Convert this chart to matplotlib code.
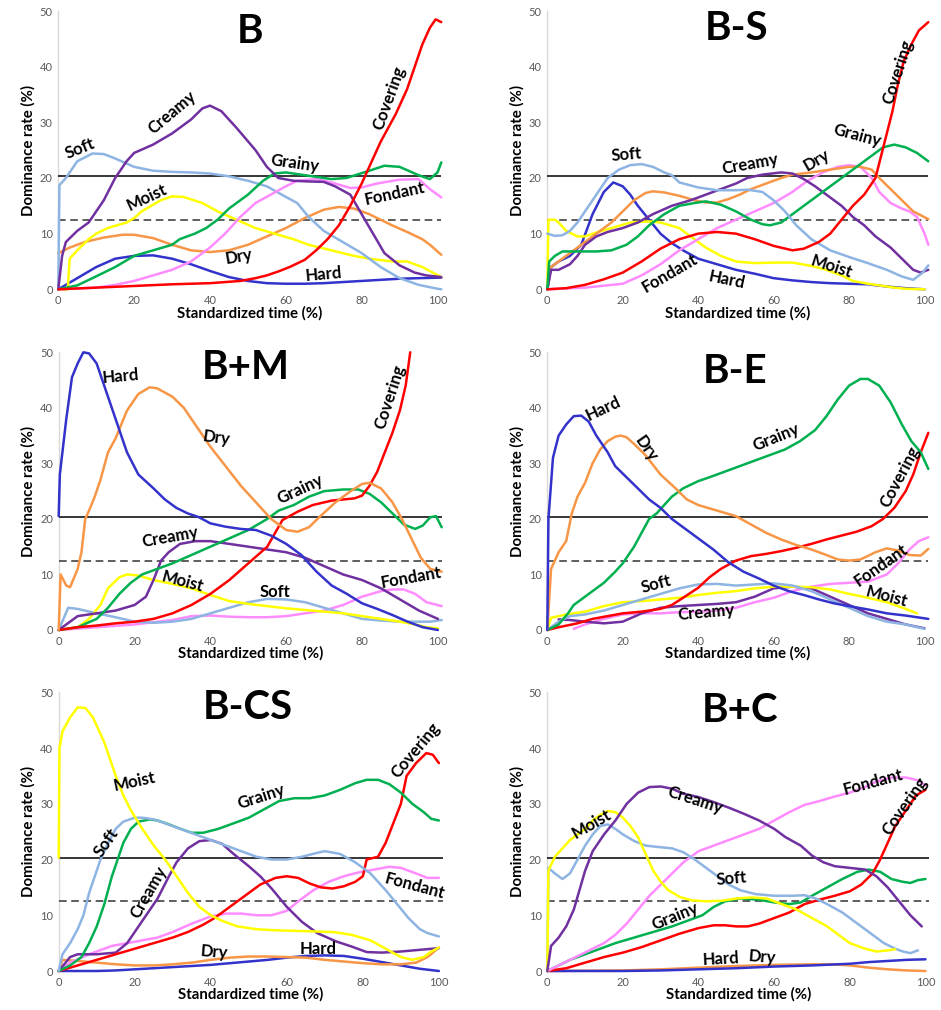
import matplotlib
matplotlib.use("Agg")
import matplotlib.pyplot as plt

plt.rcParams['font.family'] = ['Lato', 'DejaVu Sans']

# ---------------- colours ----------------
C_SOFT = '#8DB4E2'
C_CREAMY = '#7030A0'
C_MOIST = '#FFFF00'
C_DRY = '#F79646'
C_GRAINY = '#00B050'
C_HARD = '#3333CC'
C_COVER = '#FF0000'
C_FONDANT = '#FF8CFF'

threshold_solid = 20.3
threshold_dashed = 12.5

# ---------------- Panel B ----------------
B_soft_x = [0, 0.3, 2, 5, 9, 12, 15, 20, 25, 30, 35, 40, 45, 50, 55, 60, 63, 66, 70, 75, 80, 85, 90, 95, 100, 101]
B_soft_y = [0, 18.7, 20, 23, 24.4, 24.3, 23.5, 22, 21.3, 21.1, 21, 20.8, 20.3, 19.5, 18.5, 16.6, 15.5, 13, 10.5, 8.5, 6.5, 4, 2, 0.8, 0.1, 0]
B_creamy_x = [0, 1, 2, 5, 8, 12, 15, 18, 20, 25, 30, 35, 38, 40, 43, 47, 52, 55, 58, 62, 65, 70, 73, 77, 80, 83, 86, 90, 94, 97, 101]
B_creamy_y = [0, 6, 8.5, 10.5, 12, 16, 20, 23, 24.5, 26, 28, 30.5, 32.5, 33, 32, 29, 25, 22, 20, 19.5, 19.4, 19.3, 18.5, 17, 13.5, 10, 6.5, 4.3, 3, 2.5, 2.2]
B_moist_x = [0, 2.5, 3, 5, 8, 10, 13, 18, 20, 22, 27, 30, 33, 38, 42, 47, 52, 57, 62, 66, 72, 78, 82, 88, 92, 96, 101]
B_moist_y = [0, 0, 5.5, 7, 9, 10, 11, 12, 12.8, 14, 16, 16.7, 16.6, 15.5, 14, 12.5, 11, 10, 9, 8, 7, 6, 5.5, 5, 5, 4, 2.2]
B_dry_x = [0, 3, 7, 12, 17, 20, 25, 30, 35, 40, 45, 50, 55, 60, 65, 70, 74, 78, 82, 85, 88, 92, 96, 98, 101]
B_dry_y = [6.5, 7.5, 8.5, 9.3, 9.8, 9.8, 9.2, 8, 7, 6.7, 7, 8, 9.5, 11, 12.8, 14.3, 14.8, 14.5, 13.5, 12.5, 11.5, 10.3, 9, 8, 6.2]
B_grainy_x = [0, 5, 9, 15, 20, 25, 30, 32, 36, 39, 42, 45, 50, 54, 57, 60, 63, 67, 72, 76, 82, 86, 90, 95, 98, 100, 101]
B_grainy_y = [0, 0.7, 2, 4, 6, 7, 8, 9, 10, 11, 12.5, 14.5, 17, 19.5, 20.8, 21, 20.7, 20.3, 19.8, 20, 21.3, 22.2, 22, 20.5, 19.8, 21, 22.8]
B_fondant_x = [0, 10, 15, 20, 25, 30, 35, 40, 44, 48, 52, 56, 60, 63, 68, 72, 77, 80, 84, 90, 95, 98, 101]
B_fondant_y = [0, 0.3, 0.8, 1.5, 2.5, 3.5, 5, 7.5, 10, 13, 15.5, 17, 18.5, 19.5, 19.8, 19.2, 18.2, 18.3, 19, 19.7, 19.8, 18, 16.5]
B_hard_x = [0, 5, 10, 15, 20, 25, 30, 35, 40, 45, 50, 55, 60, 65, 70, 75, 80, 85, 90, 95, 101]
B_hard_y = [0, 2, 4, 5.5, 6, 6.1, 5.5, 4.5, 3.3, 2.2, 1.5, 1.1, 1, 1, 1.1, 1.3, 1.5, 1.7, 1.9, 2, 2.1]
B_cover_x = [0, 10, 20, 30, 40, 48, 52, 55, 58, 61, 65, 68, 71, 74, 77, 80, 82, 85, 87, 89, 92, 94, 96, 98, 99.5, 101]
B_cover_y = [0, 0.3, 0.6, 0.9, 1.1, 1.5, 2, 2.5, 3.2, 4, 5.3, 7, 9, 11.5, 15, 19, 22, 26.5, 29, 31.5, 36, 40, 44, 47, 48.5, 48]

# ---------------- Panel B-S ----------------
BS_soft_x = [0, 2, 4, 6, 8, 10, 12, 14, 16, 19, 22, 25, 28, 31, 33, 35, 40, 45, 50, 53, 57, 60, 63, 66, 70, 75, 80, 85, 90, 94, 97, 99.5, 101]
BS_soft_y = [10, 9.6, 9.7, 10.5, 12, 14, 16, 18, 20, 21.5, 22.3, 22.5, 22, 21, 20.5, 19.2, 18.3, 17.8, 17.8, 17.9, 17.5, 16, 14, 11.5, 9, 7, 5.8, 4.7, 3.5, 2.3, 1.7, 3, 4.3]
BS_hard_x = [0, 1, 3, 6, 9, 12, 15, 17.5, 20, 22, 24, 27, 30, 33, 36, 40, 45, 50, 55, 60, 65, 70, 75, 80, 85, 90, 95, 100]
BS_hard_y = [0, 4, 5, 6, 8, 13.5, 17.5, 19.2, 18.5, 17, 15, 12.5, 10, 8.3, 7, 5.5, 4.5, 3.5, 2.8, 2, 1.6, 1.3, 1.1, 1, 0.9, 0.5, 0.2, 0]
BS_moist_x = [0, 0.3, 2, 3, 5, 8, 10, 13, 17, 22, 27, 30, 35, 38, 42, 46, 50, 55, 60, 65, 70, 74, 78, 81, 85, 88, 92, 95, 100]
BS_moist_y = [0, 12.5, 12.5, 12, 10.5, 9.5, 9.5, 10.2, 11, 12, 12.2, 12, 11, 9.5, 7.5, 6, 5, 4.7, 4.8, 4.8, 4.2, 3.5, 2.5, 1.5, 1, 0.7, 0.3, 0.1, 0]
BS_dry_x = [0, 1, 3, 5, 8, 11, 14, 17, 20, 23, 26, 28, 31, 35, 39, 42, 45, 48, 51, 54, 58, 62, 65, 70, 75, 80, 83, 86, 88, 91, 94, 97, 101]
BS_dry_y = [0, 4, 5, 6, 7.5, 9, 10.5, 12, 14, 16, 17.3, 17.6, 17.4, 16.8, 16, 15.6, 15.6, 16.2, 17, 18, 19, 20, 20.6, 21, 21.5, 22, 22, 21.5, 20, 18, 16, 14, 12.6]
BS_creamy_x = [0, 1, 3, 6, 8, 10, 13, 16, 20, 24, 28, 33, 38, 42, 46, 50, 53, 57, 62, 65, 68, 71, 74, 78, 81, 84, 87, 91, 94, 97, 99, 101]
BS_creamy_y = [0, 3.5, 3.5, 4.5, 6, 8, 9.5, 10.3, 11, 12, 13.5, 15, 16, 17, 18, 19, 20, 20.6, 21, 20.8, 19.8, 18.5, 17, 15, 13, 11.5, 9.5, 7.5, 5.5, 3.5, 3, 3.5]
BS_grainy_x = [0, 0.5, 2, 4, 7, 10, 13, 17, 21, 24, 27, 31, 35, 39, 42, 46, 50, 54, 57, 59, 62, 65, 68, 71, 74, 77, 80, 83, 86, 89, 92, 95, 98, 101]
BS_grainy_y = [0, 5, 6, 6.8, 6.8, 6.8, 6.8, 7, 8, 9.5, 11.5, 13.5, 15, 15.5, 15.8, 15.2, 14, 12.5, 11.7, 11.5, 12, 13.5, 15, 16.5, 18, 19.5, 21, 22.5, 24, 25.5, 26, 25.5, 24.5, 23]
BS_fondant_x = [0, 10, 20, 25, 30, 35, 40, 45, 50, 55, 60, 65, 69, 73, 77, 80, 83, 86, 88, 91, 94, 96, 98, 100, 101]
BS_fondant_y = [0, 0.3, 1, 2.5, 4.5, 7, 9, 11, 12.5, 14, 15.5, 17.5, 19.5, 21, 22, 22.3, 22, 20, 17.5, 15.5, 14.5, 14, 13, 10, 8]
BS_cover_x = [0, 5, 10, 15, 20, 25, 30, 35, 40, 45, 50, 55, 60, 65, 68, 72, 75, 78, 81, 84, 87, 88.5, 90, 91.5, 93, 94.5, 96.5, 98.5, 101]
BS_cover_y = [0, 0.2, 0.8, 1.8, 3, 5, 7.3, 9, 10, 10.3, 10, 9, 7.8, 7, 7.3, 8.5, 10, 12.5, 15, 17, 20, 24, 28, 32, 37, 41, 44, 46.5, 48]

# ---------------- Panel B+M ----------------
BM_hard_x = [0, 0.3, 2, 3.5, 5, 6.5, 8, 10, 12, 14, 16, 18, 21, 25, 28, 31, 34, 37, 40, 44, 48, 52, 56, 60, 64, 68, 72, 76, 80, 84, 88, 92, 96, 100]
BM_hard_y = [20.5, 28, 38, 45.5, 48, 50, 49.8, 48, 44, 40, 36, 32, 28, 25.5, 23.5, 22, 21, 20.3, 19.2, 18.6, 18.2, 18, 17, 15.5, 13.5, 10.5, 8, 6.5, 4.8, 3.8, 2.7, 1.5, 0.5, 0]
BM_dry_x = [0, 0.5, 2, 3, 5, 6, 7, 8, 9.5, 11, 13, 15, 18, 21, 24, 26, 30, 33, 36, 40, 44, 48, 52, 56, 60, 63, 66, 69, 73, 77, 80, 82, 85, 88, 90.5, 93, 95.5, 98, 101]
BM_dry_y = [0, 10, 8, 7.7, 11, 14, 20, 21.5, 24, 27, 32, 34.5, 39.5, 42.5, 43.7, 43.5, 42, 40, 37, 33, 29.5, 26, 23, 20, 18, 17.7, 18.5, 20.5, 23, 25, 26.3, 26.5, 25.5, 23, 20, 16.5, 13, 11, 10.5]
BM_grainy_x = [0, 5, 10, 13, 16, 19, 22, 26, 30, 35, 40, 45, 50, 55, 58, 62, 66, 70, 75, 79, 82, 85, 88, 91, 94, 96, 98, 99.5, 101]
BM_grainy_y = [0, 0.5, 2, 4, 6.5, 8.5, 10, 11, 12, 13.5, 15, 16.5, 18, 20, 21.5, 22.5, 24, 25, 25.3, 25.3, 24.5, 23, 21, 19, 18.2, 18.8, 20.3, 20.5, 18.5]
BM_creamy_x = [0, 3, 5, 10, 15, 20, 23, 25, 27, 29, 32, 36, 40, 45, 50, 55, 60, 65, 70, 75, 80, 85, 90, 95, 100]
BM_creamy_y = [0, 1.5, 2.5, 3, 3.5, 4.5, 6, 9, 12.5, 14, 15.5, 16, 16, 15.5, 15, 14.5, 14, 13, 11.5, 10, 9, 7.5, 5.5, 3.5, 2]
BM_moist_x = [0, 5, 8, 11, 13, 16, 18, 21, 25, 30, 35, 40, 45, 50, 55, 60, 65, 70, 75, 80, 85, 90, 94, 97, 100]
BM_moist_y = [0, 0.5, 2, 4.5, 7.5, 9.5, 10, 9.8, 9, 8.3, 7.5, 6.3, 5.2, 4.7, 4.3, 3.9, 3.6, 3.3, 3, 2.5, 2, 1.5, 1, 0.5, 0.3]
BM_soft_x = [0, 2.5, 5, 10, 15, 20, 25, 30, 35, 40, 45, 50, 55, 60, 65, 70, 75, 80, 85, 90, 95, 98, 101]
BM_soft_y = [0, 4, 3.8, 3, 2.3, 1.5, 1.3, 1.5, 2, 3, 4, 5, 5.6, 5.5, 5, 4, 3, 2, 1.7, 1.5, 1.5, 1.5, 1.8]
BM_fondant_x = [0, 10, 20, 30, 35, 40, 45, 50, 55, 60, 65, 70, 75, 80, 85, 88, 91, 94, 97, 101]
BM_fondant_y = [0, 0.5, 1, 1.8, 2.5, 2.6, 2.4, 2.3, 2.3, 2.5, 3, 3.5, 4.5, 6, 7, 7.3, 7.3, 6.5, 5, 4.3]
BM_cover_x = [0, 5, 10, 15, 20, 25, 30, 35, 40, 45, 50, 55, 59, 63, 67, 72, 78, 80, 82, 84, 86, 88, 90, 91.5, 92.7]
BM_cover_y = [0, 0.5, 0.8, 1.2, 1.5, 2, 3, 4.5, 6.5, 9, 12, 15, 19.8, 21.3, 22.5, 23.3, 23.7, 24.2, 26, 28.5, 32, 35.5, 39.6, 44, 50]

# ---------------- Panel B-E ----------------
BE_hard_x = [0, 0.3, 1.5, 3, 5, 7, 9, 11, 13, 16, 18, 21, 24, 27, 30, 33, 36, 40, 44, 48, 52, 56, 60, 64, 68, 72, 76, 80, 85, 90, 95, 101]
BE_hard_y = [0, 20, 31, 35, 37, 38.5, 38.6, 37.5, 35, 32, 29.5, 27.5, 25.5, 23.5, 22, 20, 18.5, 16.5, 14.5, 12.2, 10.5, 9.3, 8, 7, 6.3, 5.5, 4.8, 4.3, 3.7, 3, 2.6, 2]
BE_dry_x = [0, 1, 3, 5, 6.5, 8, 10, 12, 14, 16, 18, 19.5, 21, 23, 26, 30, 34, 37, 40, 45, 50, 54, 58, 62, 66, 70, 74, 77, 80, 83, 87, 90, 93, 96, 99, 101]
BE_dry_y = [0, 11, 14, 16, 21, 24, 26.5, 30, 32.5, 34, 34.8, 35, 34.7, 33.5, 31.5, 28, 25.5, 23.5, 22.5, 21.5, 20.5, 19, 17.5, 16.3, 15.3, 14.5, 13.5, 12.7, 12.5, 12.7, 14, 14.7, 14.3, 13.5, 13.4, 14.6]
BE_grainy_x = [0, 3, 5.5, 7, 10, 13, 15, 18, 20, 23, 25, 27, 29, 31, 33, 36, 40, 43, 47, 51, 55, 59, 63, 67, 71, 74, 77, 80, 83, 85, 88, 91, 94, 96.5, 99, 101]
BE_grainy_y = [0, 1, 3, 4.5, 6, 7.5, 8.5, 10.5, 12, 15, 17.5, 20, 21, 22.5, 24, 25.5, 26.8, 27.5, 28.5, 29.5, 30.5, 31.5, 32.5, 34, 36, 38.5, 41.5, 44, 45.2, 45.2, 44, 41, 37, 34, 32, 29]
BE_cover_x = [0, 3, 8, 12, 16, 20, 25, 30, 33, 36, 40, 43, 46, 50, 54, 58, 62, 66, 70, 74, 78, 82, 86, 89, 92, 95, 97, 99, 101]
BE_cover_y = [0, 0.5, 1.2, 2, 2.5, 3, 3.3, 3.8, 4.5, 5.8, 7.6, 9.5, 11, 12.5, 13.3, 13.7, 14.2, 14.8, 15.5, 16.3, 17, 17.7, 18.7, 20, 22, 25, 28, 32, 35.5]
BE_soft_x = [0, 3, 6, 10, 15, 20, 25, 30, 35, 40, 45, 50, 55, 60, 65, 70, 75, 80, 85, 90, 95, 100]
BE_soft_y = [0, 1.5, 2.5, 2.8, 3.5, 4.5, 5.5, 6.5, 7.5, 8.2, 8.3, 8, 8.2, 8.4, 8, 7, 5.5, 4, 2.5, 1.5, 1, 0.2]
BE_moist_x = [0, 1, 5, 10, 15, 20, 25, 30, 35, 40, 45, 50, 55, 60, 65, 70, 75, 80, 85, 90, 95, 98]
BE_moist_y = [0, 2.2, 2.8, 3.3, 4.3, 5, 5.2, 5.5, 5.8, 6.3, 6.7, 7, 7.5, 7.8, 7.8, 7.7, 7.3, 6.5, 5.8, 5, 3.8, 3]
BE_creamy_x = [3, 6, 10, 15, 20, 25, 30, 35, 40, 45, 50, 55, 60, 65, 70, 75, 80, 85, 90, 95, 100]
BE_creamy_y = [1.9, 1.8, 1.5, 1.2, 1.5, 3, 4, 4.3, 4.5, 4.7, 5, 6, 7.5, 7.8, 7.5, 6, 4.5, 3, 2, 1, 0.3]
BE_fondant_x = [7, 10, 15, 20, 25, 30, 35, 40, 45, 50, 55, 60, 65, 70, 75, 80, 85, 90, 93, 96, 98.5, 101]
BE_fondant_y = [0.2, 1, 2, 2.8, 3, 3, 3.2, 3.3, 3.5, 4, 5, 5.8, 7, 7.8, 8.3, 8.5, 8.7, 10, 12, 14.5, 16, 16.7]

# ---------------- Panel B-CS ----------------
BCS_moist_x = [0, 0.2, 1, 3, 5, 7, 9, 12, 15, 17, 19, 22, 25, 28, 31, 34, 37, 40, 43, 47, 52, 57, 62, 67, 72, 77, 82, 86, 90, 93, 96, 98, 100]
BCS_moist_y = [20.3, 40, 43, 45.5, 47.3, 47.2, 45.5, 41, 35, 31.5, 28.8, 25.5, 22.5, 20, 17, 14, 11.5, 10, 9, 8, 7.5, 7.3, 7.2, 7.1, 7, 6.5, 5.5, 4, 2.5, 2, 2.5, 3.5, 4.2]
BCS_soft_x = [0, 1, 3, 5, 6.5, 8, 9.5, 11, 13, 15, 17, 20, 22, 25, 28, 32, 36, 40, 44, 48, 52, 56, 60, 64, 68, 70, 74, 78, 82, 86, 89, 92, 95, 97, 100]
BCS_soft_y = [0, 3, 5, 7.5, 10, 14, 17, 20, 23, 25.5, 26.8, 27.5, 27.5, 27.2, 26.5, 25.5, 24.5, 23.5, 22.5, 21.5, 20.5, 20, 20, 20.5, 21.2, 21.5, 21, 19.5, 17.5, 14.5, 12, 9.5, 7.5, 6.8, 6.2]
BCS_grainy_x = [0, 3, 6, 8, 10, 12, 14, 15.5, 17, 19, 21, 24, 26, 29, 32, 35, 38, 42, 46, 50, 54, 58, 62, 66, 70, 74, 78, 81, 84, 87, 90, 93, 96, 98, 100]
BCS_grainy_y = [0, 1, 2.5, 5, 8, 12, 17, 20, 23, 25.5, 26.8, 27.2, 27, 26.3, 25.5, 24.8, 24.8, 25.5, 26.5, 27.5, 29, 30.5, 31, 31, 31.5, 32.5, 33.7, 34.3, 34.3, 33.5, 32, 30, 28.5, 27.3, 27]
BCS_creamy_x = [0, 3, 5, 10, 15, 18, 21, 23, 26, 29, 31, 34, 37, 40, 43, 46, 50, 53, 56, 60, 64, 68, 73, 77, 81, 85, 90, 95, 100]
BCS_creamy_y = [0, 2.5, 3, 3, 3.3, 5, 8, 10, 13, 17, 19.5, 22, 23.3, 23.5, 22.8, 21, 18.8, 17, 14.8, 11.5, 8.8, 6.8, 5.3, 4.4, 3.4, 3.3, 3.5, 3.8, 4.1]
BCS_fondant_x = [0, 3, 8, 14, 18, 22, 26, 30, 35, 40, 44, 48, 52, 56, 60, 63, 67, 71, 75, 79, 83, 87, 90, 94, 97, 100]
BCS_fondant_y = [0, 1.5, 3, 4.5, 5, 5.5, 6, 7, 8.5, 9.8, 10.3, 10.3, 10, 10, 10.8, 12.5, 14.5, 16, 17, 17.7, 18.2, 18.7, 18.5, 17.5, 16.7, 16.7]
BCS_cover_x = [0, 5, 10, 15, 20, 25, 30, 34, 38, 41, 44, 47, 50, 53, 57, 60, 63, 66, 69, 72, 75, 78, 80, 81, 84, 86, 88, 90, 91.5, 94, 96.7, 98.4, 100]
BCS_cover_y = [0, 1, 2, 3, 4, 5, 6, 7, 8.3, 9.5, 11, 12.5, 14, 15.5, 16.7, 17, 16.7, 15.7, 15, 14.8, 15.2, 16, 17, 20, 20.5, 23, 26.5, 30, 35, 37.3, 39.1, 38.8, 37.3]
BCS_dry_x = [0, 1, 5, 10, 15, 20, 25, 30, 35, 40, 45, 50, 55, 60, 65, 70, 75, 80, 85, 90, 94, 97, 100]
BCS_dry_y = [0, 2, 1.8, 1.5, 1.2, 1, 1, 1.2, 1.5, 2, 2.4, 2.6, 2.6, 2.5, 2.4, 2, 1.7, 1.4, 1.2, 1.2, 1.5, 2.5, 4.2]
BCS_hard_x = [0, 10, 15, 20, 25, 30, 35, 40, 45, 50, 55, 60, 65, 70, 75, 80, 85, 90, 95, 100]
BCS_hard_y = [0, 0, 0.1, 0.3, 0.5, 0.7, 0.9, 1.1, 1.4, 1.7, 2, 2.4, 2.7, 2.8, 2.7, 2.2, 1.6, 1, 0.4, 0]

# ---------------- Panel B+C ----------------
BC_moist_x = [0, 0.3, 2, 4, 6, 8, 10, 12, 14, 16, 18, 20, 22, 24, 26, 28, 30, 32, 35, 38, 42, 46, 50, 54, 58, 62, 66, 70, 74, 77, 80, 84, 87, 90, 92]
BC_moist_y = [0, 18, 20.5, 22, 23.5, 24.5, 25.5, 27, 28, 28.7, 28.5, 27.5, 26, 24, 21, 18, 16, 14.5, 13.3, 12.7, 12.5, 12.6, 13, 13.2, 13, 12, 11, 9.5, 8, 6.5, 5, 4, 3.5, 3.7, 3.9]
BC_soft_x = [0, 0.3, 2, 4, 6, 8, 10, 12, 14, 16, 18, 20, 23, 26, 30, 33, 36, 39, 42, 45, 48, 51, 55, 60, 65, 68, 71, 74, 78, 82, 86, 89, 92, 94, 96, 98]
BC_soft_y = [0, 18.5, 17.5, 16.5, 17.5, 20, 22.5, 24.5, 26, 26.3, 25.5, 24.5, 23.3, 22.5, 22.2, 22, 21.3, 20, 18.5, 17, 15.5, 14.5, 13.8, 13.5, 13.5, 13.6, 13, 12, 10.5, 8.5, 6.5, 5, 4, 3.5, 3.2, 3.7]
BC_creamy_x = [0, 1, 3, 5, 7, 8.5, 10, 12, 15, 18, 21, 24, 27, 30, 33, 36, 40, 44, 48, 52, 56, 60, 63, 67, 70, 73, 76, 80, 84, 87, 90, 93, 96, 99]
BC_creamy_y = [0, 4.5, 6, 8, 11, 14.5, 18, 21.5, 24.5, 27, 30, 32, 33, 33.1, 32.7, 31.8, 31.2, 30.3, 29.3, 28.2, 27, 25.5, 24, 22.5, 20.7, 19.5, 18.8, 18.5, 18.2, 17, 15, 12.5, 10, 8]
BC_fondant_x = [0, 3, 6, 9, 12, 15, 18, 21, 24, 27, 30, 33, 36, 40, 44, 48, 52, 56, 60, 64, 68, 72, 76, 80, 84, 87, 91, 95, 98, 100]
BC_fondant_y = [0, 1, 2, 3, 4, 5, 6.5, 8.5, 11, 13.5, 15.5, 17.5, 19.5, 21.5, 22.5, 23.5, 24.5, 25.5, 27, 28.5, 29.8, 30.5, 31.3, 32, 33, 34, 34.7, 34.7, 34.2, 33.3]
BC_grainy_x = [0, 3, 6, 10, 14, 18, 23, 28, 33, 37, 41, 44, 47, 51, 56, 60, 64, 67, 70, 74, 78, 82, 85, 88, 91, 94, 96, 98, 100]
BC_grainy_y = [0, 1, 2, 3, 4, 5, 6, 7, 8, 9, 10, 11.5, 12.5, 13, 12.8, 12.3, 12, 12.3, 13.5, 15, 16.5, 17.8, 18.2, 17.8, 16.5, 16, 15.8, 16.3, 16.5]
BC_cover_x = [0, 5, 10, 15, 20, 25, 30, 35, 40, 44, 47, 50, 53, 56, 60, 64, 68, 72, 76, 80, 83, 86, 88, 90, 92, 95, 97.5, 100]
BC_cover_y = [0, 0.5, 1.5, 2.5, 3.3, 4.3, 5.5, 6.7, 7.7, 8.2, 8.2, 8, 8, 8.5, 9.5, 10.5, 12, 12.8, 13.5, 14.3, 15.5, 17.5, 20, 23, 26, 29, 31.5, 32.5]
BC_hard_x = [0, 20, 30, 40, 50, 60, 70, 80, 85, 90, 95, 100]
BC_hard_y = [0, 0, 0.1, 0.3, 0.5, 0.8, 1, 1.3, 1.6, 1.8, 2, 2.1]
BC_dry_x = [0, 20, 30, 40, 50, 60, 70, 75, 80, 85, 90, 95, 100]
BC_dry_y = [0, 0.1, 0.3, 0.6, 0.9, 1.1, 1.2, 1.2, 1, 0.6, 0.3, 0.1, 0]

# ---------------- panel definitions ----------------
panels = [
    dict(title='B', pos=(58.3, 11, 383, 278.3), title_xy=(50.5, 46.3),
         curves=[(B_dry_x, B_dry_y, C_DRY), (B_hard_x, B_hard_y, C_HARD), (B_moist_x, B_moist_y, C_MOIST),
                 (B_soft_x, B_soft_y, C_SOFT), (B_fondant_x, B_fondant_y, C_FONDANT), (B_grainy_x, B_grainy_y, C_GRAINY),
                 (B_creamy_x, B_creamy_y, C_CREAMY), (B_cover_x, B_cover_y, C_COVER)],
         labels=[('Soft', 5.8, 25.2, 22), ('Creamy', 30, 31.8, 40), ('Moist', 23.3, 16.5, 25), ('Dry', 47.5, 5.9, 10),
                 ('Hard', 70, 2.6, 5), ('Grainy', 62.4, 22.6, -8), ('Fondant', 88.8, 17.2, 12), ('Covering', 87.2, 34.3, 70)]),
    dict(title='B-S', pos=(547.3, 11, 381, 278.3), title_xy=(50.2, 46.8),
         curves=[(BS_hard_x, BS_hard_y, C_HARD), (BS_moist_x, BS_moist_y, C_MOIST), (BS_fondant_x, BS_fondant_y, C_FONDANT),
                 (BS_dry_x, BS_dry_y, C_DRY), (BS_creamy_x, BS_creamy_y, C_CREAMY), (BS_grainy_x, BS_grainy_y, C_GRAINY),
                 (BS_soft_x, BS_soft_y, C_SOFT), (BS_cover_x, BS_cover_y, C_COVER)],
         labels=[('Soft', 21, 24.2, 5), ('Creamy', 53.8, 22.5, 10), ('Dry', 71.4, 23.2, 30), ('Grainy', 82, 27.7, -15),
                 ('Covering', 93, 39, 72), ('Moist', 75.4, 4.1, -18), ('Fondant', 32.5, 2.8, 30), ('Hard', 47.6, 1.7, -12)]),
    dict(title='B+M', pos=(58.7, 352.3, 383, 277.7), title_xy=(49.2, 47.3),
         curves=[(BM_fondant_x, BM_fondant_y, C_FONDANT), (BM_soft_x, BM_soft_y, C_SOFT), (BM_moist_x, BM_moist_y, C_MOIST),
                 (BM_creamy_x, BM_creamy_y, C_CREAMY), (BM_grainy_x, BM_grainy_y, C_GRAINY), (BM_cover_x, BM_cover_y, C_COVER),
                 (BM_dry_x, BM_dry_y, C_DRY), (BM_hard_x, BM_hard_y, C_HARD)],
         labels=[('Hard', 16.2, 45.6, 5), ('Dry', 41.5, 34.5, -8), ('Grainy', 63.7, 25.4, 25), ('Covering', 87.4, 42, 72),
                 ('Creamy', 29.4, 16.7, 10), ('Moist', 32.7, 8.7, -15), ('Soft', 57, 6.9, 0), ('Fondant', 93, 9.4, 10)]),
    dict(title='B-E', pos=(547.3, 352.3, 381, 277.7), title_xy=(49.7, 46.5),
         curves=[(BE_fondant_x, BE_fondant_y, C_FONDANT), (BE_creamy_x, BE_creamy_y, C_CREAMY), (BE_moist_x, BE_moist_y, C_MOIST),
                 (BE_soft_x, BE_soft_y, C_SOFT), (BE_cover_x, BE_cover_y, C_COVER), (BE_grainy_x, BE_grainy_y, C_GRAINY),
                 (BE_dry_x, BE_dry_y, C_DRY), (BE_hard_x, BE_hard_y, C_HARD)],
         labels=[('Hard', 14.8, 39.8, 25), ('Dry', 26.1, 32.7, -55), ('Grainy', 60.7, 34.7, 22), ('Covering', 93.4, 27.6, 62),
                 ('Soft', 28.9, 8.3, 15), ('Creamy', 42.2, 3.2, 5), ('Fondant', 88.5, 11.7, 35), ('Moist', 89.9, 6, -15)]),
    dict(title='B-CS', pos=(58.7, 692.3, 384, 278.7), title_xy=(49.8, 47.3),
         curves=[(BCS_hard_x, BCS_hard_y, C_HARD), (BCS_dry_x, BCS_dry_y, C_DRY), (BCS_fondant_x, BCS_fondant_y, C_FONDANT),
                 (BCS_creamy_x, BCS_creamy_y, C_CREAMY), (BCS_cover_x, BCS_cover_y, C_COVER), (BCS_grainy_x, BCS_grainy_y, C_GRAINY),
                 (BCS_soft_x, BCS_soft_y, C_SOFT), (BCS_moist_x, BCS_moist_y, C_MOIST)],
         labels=[('Moist', 20, 33.9, 12), ('Soft', 12.4, 23, 55), ('Grainy', 53.3, 31.2, 18), ('Covering', 94, 39.5, 50),
                 ('Creamy', 23.6, 14.2, 60), ('Fondant', 93.6, 15.3, -15), ('Dry', 41, 3.3, -5), ('Hard', 68.2, 3.9, 0)]),
    dict(title='B+C', pos=(547.3, 692.3, 382, 278.7), title_xy=(50.9, 46.8),
         curves=[(BC_dry_x, BC_dry_y, C_DRY), (BC_hard_x, BC_hard_y, C_HARD), (BC_grainy_x, BC_grainy_y, C_GRAINY),
                 (BC_cover_x, BC_cover_y, C_COVER), (BC_fondant_x, BC_fondant_y, C_FONDANT), (BC_soft_x, BC_soft_y, C_SOFT),
                 (BC_moist_x, BC_moist_y, C_MOIST), (BC_creamy_x, BC_creamy_y, C_CREAMY)],
         labels=[('Moist', 11.7, 26.4, 30), ('Creamy', 39, 30.7, -18), ('Fondant', 86.2, 33.9, 15), ('Covering', 94.5, 29.5, 55),
                 ('Soft', 48.7, 16.6, 5), ('Grainy', 33.7, 9.8, 22), ('Hard', 46, 2.2, 3), ('Dry', 56.7, 2.4, -5)]),
]

W, H = 941, 1010
fig = plt.figure(figsize=(W / 100, H / 100), dpi=100)
fig.patch.set_facecolor('white')

for p in panels:
    px, py, pw, ph = p['pos']
    ax = fig.add_axes([px / W, 1 - (py + ph) / H, pw / W, ph / H])
    ax.set_xlim(0, 101)
    ax.set_ylim(0, 50)
    for s in ['top', 'right', 'bottom']:
        ax.spines[s].set_visible(False)
    ax.spines['left'].set_color('#D9D9D9')
    ax.spines['left'].set_linewidth(1.0)
    ax.set_xticks([0, 20, 40, 60, 80, 100])
    ax.set_yticks([0, 10, 20, 30, 40, 50])
    ax.tick_params(length=0, labelsize=8, labelcolor='#595959', pad=4)
    ax.set_xlabel('Standardized time (%)', fontsize=10.8, fontweight='bold', labelpad=0)
    ax.set_ylabel('Dominance rate (%)', fontsize=10.8, fontweight='bold', labelpad=3)

    ax.axhline(threshold_solid, xmin=0, xmax=1, color='black', lw=1.1, zorder=3)
    ax.axhline(threshold_dashed, xmin=0, xmax=1, color='#333333', lw=1.1, ls=(0, (5, 3)), zorder=3)

    for xs, ys, col in p['curves']:
        ax.plot(xs, ys, color=col, lw=1.8, solid_joinstyle='round', solid_capstyle='round',
                clip_on=False, zorder=4)

    for txt, tx, ty, rot in p['labels']:
        ax.text(tx, ty, txt, rotation=rot, rotation_mode='anchor', ha='center', va='center',
                fontsize=12, fontweight='bold', color='black', zorder=6)

    ax.text(p['title_xy'][0], p['title_xy'][1], p['title'], ha='center', va='center',
            fontsize=29, fontweight='bold', color='black', zorder=6)

fig.savefig('out.png', dpi=100, facecolor='white')
